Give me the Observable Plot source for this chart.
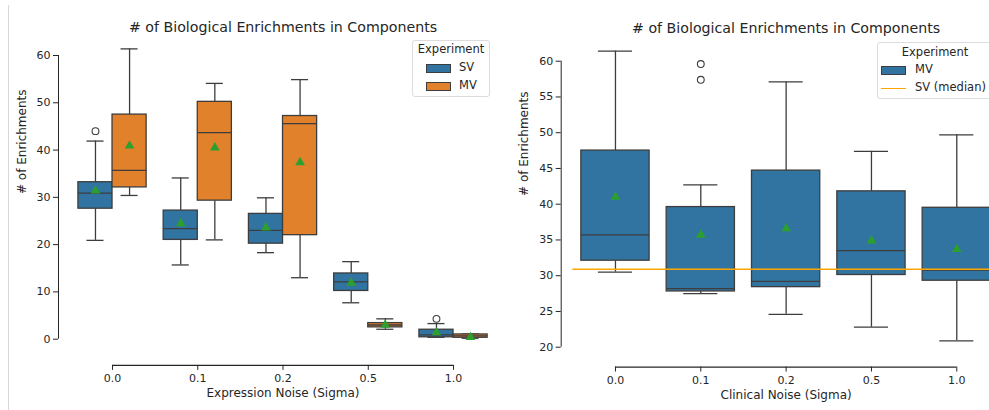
<!DOCTYPE html>
<html><head><meta charset="utf-8">
<script src="https://cdn.jsdelivr.net/npm/d3@7"></script>
<script src="https://cdn.jsdelivr.net/npm/@observablehq/plot@0.6"></script>
<style>
html,body{margin:0;padding:0;background:#fff;overflow:hidden;}
#wrap{position:relative;width:989px;height:410px;overflow:hidden;font-family:"DejaVu Sans",sans-serif;color:#262626;}
.panel{position:absolute;top:0;}
.panel svg{max-width:none !important;}
.cellline{position:absolute;left:8px;top:5px;width:0;height:405px;border-left:1px solid #d8d8d8;}
.legend{position:absolute;background:rgba(255,255,255,0.85);border:1px solid #dcdcdc;border-radius:3px;font-size:11.5px;box-sizing:border-box;}
.legend .ttl{position:absolute;left:0;right:0;text-align:center;}
.legend .sw{position:absolute;width:25px;height:9px;box-sizing:border-box;border:1px solid #3d3d3d;}
.legend .ln{position:absolute;width:25px;height:0;border-top:1.5px solid orange;}
.legend .lb{position:absolute;white-space:nowrap;}
</style>
</head><body>
<div id="wrap">
  <div class="cellline"></div>
  <div class="panel" id="left" style="left:0;width:500px"></div>
  <div class="panel" id="right" style="left:494px;width:515px"></div>
  <div class="legend" style="left:412px;top:40px;width:78px;height:57px">
    <div class="ttl" style="top:1px">Experiment</div>
    <div class="sw" style="left:13px;top:23px;background:#3274a1"></div><div class="lb" style="left:46px;top:19px">SV</div>
    <div class="sw" style="left:13px;top:41px;background:#e1812c"></div><div class="lb" style="left:46px;top:37px">MV</div>
  </div>
  <div class="legend" style="left:877px;top:42px;width:116px;height:57px">
    <div class="ttl" style="top:2px">Experiment</div>
    <div class="sw" style="left:3px;top:23px;background:#3274a1"></div><div class="lb" style="left:37px;top:19px">MV</div>
    <div class="ln" style="left:3px;top:45px"></div><div class="lb" style="left:37px;top:37px">SV (median)</div>
  </div>
</div>
<script>
// ---------- data ----------
const noiseLabels = ["0.0", "0.1", "0.2", "0.5", "1.0"];
const leftYTicks = [0, 10, 20, 30, 40, 50, 60];
const rightYTicks = [20, 25, 30, 35, 40, 45, 50, 55, 60];

// Left chart: expression noise, SV
const svLo   = [20.9, 15.7, 18.3, 7.7, 0.4];
const svQ1   = [27.6, 21.0, 20.2, 10.2, 0.4];
const svMed  = [30.9, 23.4, 23.0, 12.1, 0.9];
const svQ3   = [33.2, 27.2, 26.5, 13.9, 2.0];
const svHi   = [41.9, 34.1, 29.9, 16.4, 3.3];
const svMean = [31.4, 24.5, 23.6, 11.9, 1.4];
const svOut  = [[44.0], [], [], [], [4.3]];

// Left chart: expression noise, MV
const mvELo   = [30.4, 21.0, 13.0, 2.1, 0.2];
const mvEQ1   = [32.1, 29.3, 22.0, 2.5, 0.3];
const mvEMed  = [35.7, 43.7, 45.6, 3.0, 0.7];
const mvEQ3   = [47.5, 50.2, 47.2, 3.4, 1.0];
const mvEHi   = [61.4, 54.1, 54.9, 4.3, 1.1];
const mvEMean = [40.9, 40.5, 37.4, 3.0, 0.4];

// Right chart: clinical noise, MV
const mvCLo   = [30.5, 27.5, 24.6, 22.8, 20.9];
const mvCQ1   = [32.1, 27.8, 28.4, 30.1, 29.3];
const mvCMed  = [35.7, 28.2, 29.2, 33.5, 30.8];
const mvCQ3   = [47.5, 39.6, 44.7, 41.8, 39.5];
const mvCHi   = [61.4, 42.7, 57.1, 47.4, 49.7];
const mvCMean = [41.0, 35.7, 36.6, 34.9, 33.7];
const mvCOut  = [[], [59.6, 57.4], [], [], []];

const BLUE = "#3274a1", ORANGE = "#e1812c", EDGE = "#3d3d3d", MEAN = "#2ca02c", AX = "#262626";

function rows(lo, q1, med, q3, hi, mean, out, offset, color) {
  return noiseLabels.map((c, i) => ({cat: c, i, x: i + offset, lo: lo[i], q1: q1[i], med: med[i], q3: q3[i], hi: hi[i], mean: mean[i], out: out ? out[i] : [], color}));
}

function boxMarks(data, hw, cap) {
  const outs = data.flatMap(d => d.out.map(v => ({x: d.x, v})));
  return [
    Plot.ruleX(data, {x: "x", y1: "q3", y2: "hi", stroke: EDGE, strokeWidth: 1.3}),
    Plot.ruleX(data, {x: "x", y1: "lo", y2: "q1", stroke: EDGE, strokeWidth: 1.3}),
    Plot.ruleY(data, {y: "hi", x1: d => d.x - cap, x2: d => d.x + cap, stroke: EDGE, strokeWidth: 1.3}),
    Plot.ruleY(data, {y: "lo", x1: d => d.x - cap, x2: d => d.x + cap, stroke: EDGE, strokeWidth: 1.3}),
    Plot.rect(data, {x1: d => d.x - hw, x2: d => d.x + hw, y1: "q1", y2: "q3", fill: "color", stroke: EDGE, strokeWidth: 1.3}),
    Plot.ruleY(data, {y: "med", x1: d => d.x - hw, x2: d => d.x + hw, stroke: EDGE, strokeWidth: 1.3}),
    Plot.dot(outs, {x: "x", y: "v", r: 3.4, stroke: EDGE, strokeWidth: 1.1, fill: "none"}),
  ];
}

function meanMarks(data) {
  return Plot.dot(data, {x: "x", y: "mean", symbol: "triangle", r: 3.6, fill: MEAN, stroke: "none"});
}

function chart({width, marginLeft, marginRight, marginTop, marginBottom, step, yPx, yTicks, marks, title, xlabel, ylabel, ylabelDx, xlabelDy}) {
  const x0 = -0.5 - yPx.offsetX / step;   // frame left = offset spine
  const x1 = 4.5;
  const ydom = [yPx.min, yPx.max];
  const ymid = (yPx.axMin + yPx.max) / 2;
  return Plot.plot({
    width, height: 410, marginLeft, marginRight, marginTop, marginBottom,
    style: {fontFamily: "DejaVu Sans, sans-serif", fontSize: "11px", color: AX, background: "transparent", maxWidth: "none"},
    x: {type: "linear", domain: [x0, x1], axis: null},
    y: {domain: ydom, axis: null},
    marks: [
      ...marks,
      Plot.ruleX([x0], {y1: yTicks[0], y2: yTicks[yTicks.length - 1], stroke: AX, strokeWidth: 1}),
      Plot.ruleY([ydom[0]], {x1: 0, x2: noiseLabels.length - 1, stroke: AX, strokeWidth: 1.2}),
      Plot.axisY({anchor: "left", ticks: yTicks, tickSize: 5, tickPadding: 3, label: null, stroke: AX, fill: AX, fontSize: 11}),
      Plot.axisX({anchor: "bottom", ticks: noiseLabels.map((_, i) => i), tickFormat: i => noiseLabels[i], tickSize: 5, tickPadding: 4, label: null, stroke: AX, fill: AX, fontSize: 11}),
      Plot.text([title], {x: (noiseLabels.length - 1) / 2, frameAnchor: "top", dy: yPx.titleDy, fontSize: 14.2, fill: AX}),
      Plot.text([xlabel], {x: (noiseLabels.length - 1) / 2, frameAnchor: "bottom", dy: xlabelDy, fontSize: 12, fill: AX}),
      Plot.text([ylabel], {y: ymid, frameAnchor: "left", rotate: -90, dx: ylabelDx, fontSize: 12, fill: AX}),
    ]
  });
}

// ---------- left chart ----------
const svRows = rows(svLo, svQ1, svMed, svQ3, svHi, svMean, svOut, -0.2, BLUE);
const mvERows = rows(mvELo, mvEQ1, mvEMed, mvEQ3, mvEHi, mvEMean, null, 0.2, ORANGE);
{
  const step = 85.25;
  const pxPerUnit = 4.728;
  const axMin = -3.0, axMax = 64.4;
  const bottomOffset = 12;
  const yMin = axMin - bottomOffset / pxPerUnit;
  const marginTop = 34.2;
  const frameH = (axMax - yMin) * pxPerUnit;
  const marginBottom = 410 - marginTop - frameH;
  const el = chart({
    width: 500, marginLeft: 58, marginRight: 500 - (58 + 11.4 + 5 * step), marginTop, marginBottom, step,
    yPx: {offsetX: 11.4, min: yMin, max: axMax, axMin, titleDy: -12.5},
    yTicks: leftYTicks,
    marks: [...boxMarks(svRows, 0.2, 0.1), ...boxMarks(mvERows, 0.2, 0.1), meanMarks(svRows), meanMarks(mvERows)],
    title: "# of Biological Enrichments in Components",
    xlabel: "Expression Noise (Sigma)",
    ylabel: "# of Enrichments",
    ylabelDx: -36,
    xlabelDy: 32
  });
  document.getElementById("left").appendChild(el);
}

// ---------- right chart ----------
const mvCRows = rows(mvCLo, mvCQ1, mvCMed, mvCQ3, mvCHi, mvCMean, mvCOut, 0, BLUE);
const svMedianRef = svMed[0];
{
  const step = 85.33;
  const pxPerUnit = 7.15;
  const axMin = 18.9, axMax = 63.4;
  const bottomOffset = 12;
  const yMin = axMin - bottomOffset / pxPerUnit;
  const marginTop = 36.4;
  const frameH = (axMax - yMin) * pxPerUnit;
  const marginBottom = 410 - marginTop - frameH;
  const el = chart({
    width: 515, marginLeft: 66.7, marginRight: 515 - (66.7 + 11.6 + 5 * step), marginTop, marginBottom, step,
    yPx: {offsetX: 11.6, min: yMin, max: axMax, axMin, titleDy: -13.5},
    yTicks: rightYTicks,
    marks: [
      ...boxMarks(mvCRows, 0.4, 0.2),
      Plot.ruleY([svMedianRef], {x1: -0.5, x2: 4.5, stroke: "orange", strokeWidth: 1.6}),
      meanMarks(mvCRows)
    ],
    title: "# of Biological Enrichments in Components",
    xlabel: "Clinical Noise (Sigma)",
    ylabel: "# of Enrichments",
    ylabelDx: -37.5,
    xlabelDy: 32
  });
  document.getElementById("right").appendChild(el);
}
</script>
</body></html>
